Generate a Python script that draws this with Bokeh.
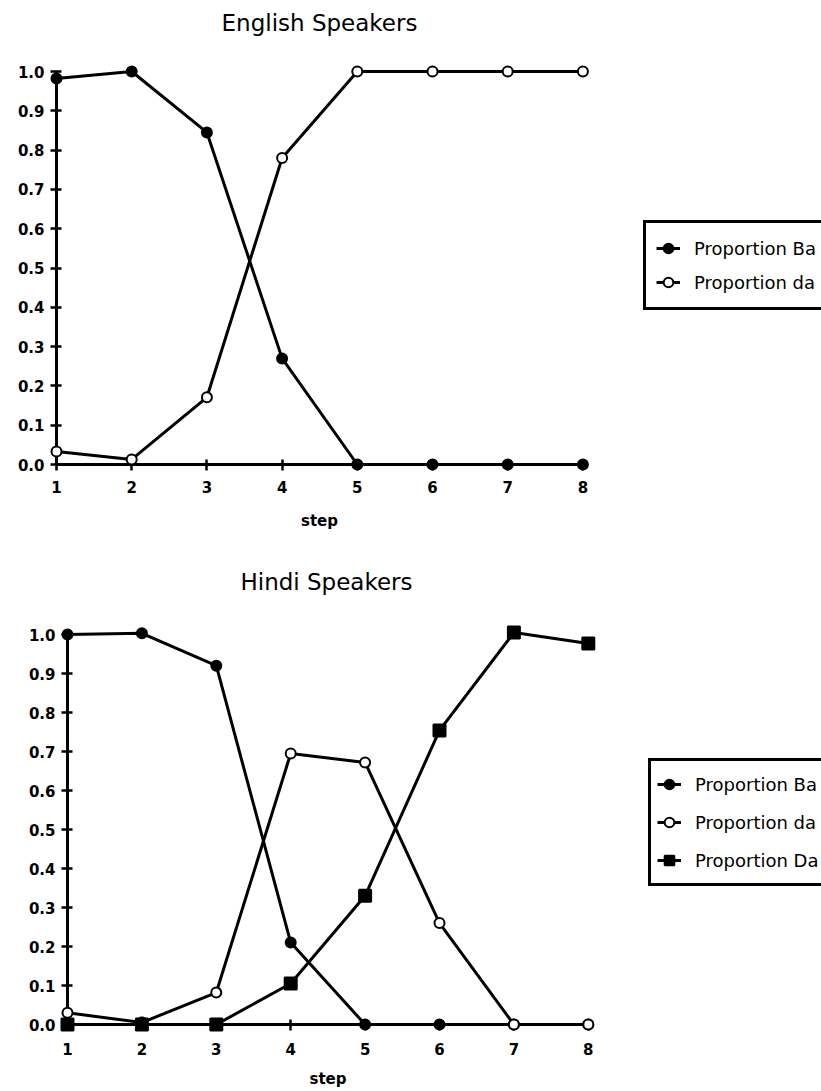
from bokeh.plotting import figure
from bokeh.models import Legend, LegendItem, Label, FixedTicker, PrintfTickFormatter, Range1d
from bokeh.layouts import column
from bokeh.embed import file_html
from bokeh.resources import INLINE

# ---- data ----
steps = [1, 2, 3, 4, 5, 6, 7, 8]
y_ticks = [0.0, 0.1, 0.2, 0.3, 0.4, 0.5, 0.6, 0.7, 0.8, 0.9, 1.0]

eng_ba = [0.982, 1.0, 0.845, 0.27, 0.0, 0.0, 0.0, 0.0]
eng_da = [0.033, 0.013, 0.171, 0.78, 1.0, 1.0, 1.0, 1.0]

hin_ba = [1.0, 1.003, 0.92, 0.21, 0.0, 0.0, 0.0, 0.0]
hin_da = [0.03, 0.005, 0.082, 0.695, 0.672, 0.26, 0.0, 0.0]
hin_Da = [0.0, 0.0, 0.0, 0.105, 0.33, 0.754, 1.005, 0.977]

FONT = "DejaVu Sans"
W = 821


def make_chart(title, series, H, sx1, sdx, sy0, sdy, title_x, title_top,
               legend_loc, legend_pad, legend_lh, tick_standoff, label_standoff):
    p = figure(width=W, height=H, output_backend="svg", toolbar_location=None,
               min_border=0,
               x_range=Range1d(1 - sx1 / sdx, 1 + (W - sx1) / sdx),
               y_range=Range1d((sy0 - H) / sdy, sy0 / sdy))
    p.title.visible = False
    p.grid.visible = False
    p.outline_line_color = None
    p.background_fill_color = "white"
    p.border_fill_color = "white"

    xa = p.xaxis[0]
    xa.fixed_location = 0
    xa.bounds = (1, 8)
    xa.ticker = FixedTicker(ticks=steps)
    xa.axis_label = "step"
    ya = p.yaxis[0]
    ya.fixed_location = 1
    ya.bounds = (0, 1)
    ya.ticker = FixedTicker(ticks=y_ticks)
    ya.formatter = PrintfTickFormatter(format="%.1f")
    for ax in (xa, ya):
        ax.level = "underlay"
        ax.axis_line_width = 3
        ax.axis_line_color = "black"
        ax.major_tick_in = 5
        ax.major_tick_out = 6
        ax.major_tick_line_width = 2.5
        ax.minor_tick_line_color = None
        ax.major_label_text_font = FONT
        ax.major_label_text_font_style = "bold"
        ax.major_label_text_font_size = "15px"
        ax.major_label_text_color = "black"
        ax.axis_label_text_font = FONT
        ax.axis_label_text_font_style = "bold"
        ax.axis_label_text_font_size = "15px"
        ax.axis_label_text_color = "black"
    xa.major_label_standoff = tick_standoff
    ya.major_label_standoff = 6
    xa.axis_label_standoff = label_standoff

    items = []
    for label, vals, marker, size, fill in series:
        lr = p.line(steps[:len(vals)], vals, line_width=3, line_color="black")
        sr = p.scatter(steps[:len(vals)], vals, marker=marker, size=size,
                       fill_color=fill, line_color="black", line_width=2)
        items.append(LegendItem(label=label, renderers=[lr, sr]))

    leg = Legend(items=items, location=legend_loc,
                 border_line_color="black", border_line_width=3, border_line_alpha=1.0,
                 padding=legend_pad, spacing=4, label_height=legend_lh,
                 glyph_height=legend_lh, glyph_width=24, label_standoff=14,
                 margin=0,
                 label_text_font=FONT, label_text_font_size="18px",
                 label_text_color="black", background_fill_color="white",
                 background_fill_alpha=1.0)
    p.add_layout(leg)

    p.add_layout(Label(x=title_x, y=H - title_top, x_units="screen", y_units="screen",
                       text=title, text_align="center", text_baseline="middle",
                       text_font=FONT, text_font_size="23px", text_color="black"))
    return p


top = make_chart("English Speakers",
                 [("Proportion Ba", eng_ba, "circle", 10, "black"),
                  ("Proportion da", eng_da, "circle", 10, "white")],
                 545, 56, 75.2, 464, 393, 319, 22,
                 (643, 235), 10, 30, 10, 16)

bottom = make_chart("Hindi Speakers",
                    [("Proportion Ba", hin_ba, "circle", 10, "black"),
                     ("Proportion da", hin_da, "circle", 10, "white"),
                     ("Proportion Da", hin_Da, "square", 12, "black")],
                    546, 67, 74.4, 479, 390, 326, 36,
                    (648, 205), 6, 34, 12, 12)

layout = column(top, bottom, spacing=0)
open("out.html", "w").write(file_html(layout, INLINE))
